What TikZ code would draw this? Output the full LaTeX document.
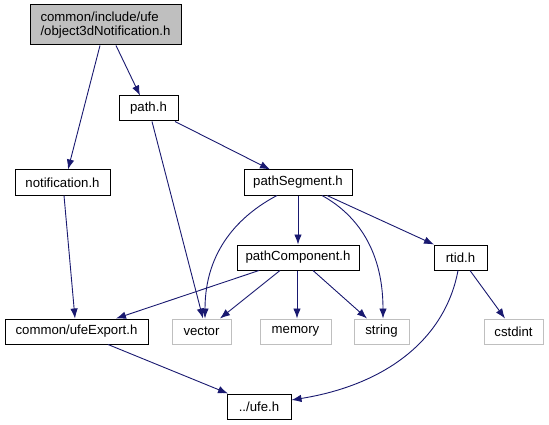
\documentclass[tikz,border=0pt]{standalone}
\usepackage{fontspec}
\setmainfont{Liberation Sans}
\usetikzlibrary{arrows.meta}
\definecolor{edgec}{HTML}{191970}
\definecolor{extc}{HTML}{BFBFBF}
\begin{document}
\begin{tikzpicture}[x=1pt,y=-1pt,
  box/.style={draw=black,line width=1pt,rectangle,inner sep=0pt,minimum height=25pt,font=\fontsize{13.2}{14.5}\selectfont},
  ext/.style={box,draw=extc},
  edge/.style={draw=edgec,line width=0.9pt,-{Latex[length=10pt,width=7.5pt]}}]
\useasboundingbox (0,0) rectangle (549,425);
\node[box,fill=extc,minimum width=151pt,minimum height=40pt,align=left] (top) at (105.5,25) {common/include/ufe\\/object3dNotification.h};
\node[box,minimum width=59pt] (path) at (148.5,108.5) {path.h};
\node[box,minimum width=95pt] (notif) at (62.5,182.5) {notification.h};
\node[box,minimum width=108pt] (seg) at (298,182.5) {pathSegment.h};
\node[box,minimum width=122pt] (comp) at (298,257.5) {pathComponent.h};
\node[box,minimum width=53pt] (rtid) at (460.5,257.5) {rtid.h};
\node[box,minimum width=143pt] (exp) at (76.5,331.5) {common/ufeExport.h};
\node[ext,minimum width=59pt] (vec) at (201.5,331.5) {vector};
\node[ext,minimum width=71pt] (mem) at (295.5,331.5) {memory};
\node[ext,minimum width=55pt] (str) at (381.5,331.5) {string};
\node[ext,minimum width=59pt] (cst) at (513.5,331.5) {cstdint};
\node[box,minimum width=64pt] (ufe) at (259,406.5) {../ufe.h};

\draw[edge] ([xshift=-5.5pt]top.south) -- ([xshift=5.5pt]notif.north);
\draw[edge] ([xshift=10.5pt]top.south) -- ([xshift=-8.5pt]path.north);
\draw[edge] ([xshift=3.5pt]path.south) -- ([xshift=1.5pt]vec.north);
\draw[edge] ([xshift=26.5pt]path.south) -- ([xshift=-28pt]seg.north);
\draw[edge] ([xshift=1.5pt]notif.south) -- ([xshift=-1.5pt]exp.north);
\draw[edge] ([xshift=-39pt]comp.south) -- ([xshift=39.5pt]exp.north);
\draw[edge] ([xshift=-18pt]comp.south) -- ([xshift=18.5pt]vec.north);
\draw[edge] ([xshift=-21pt]seg.south) .. controls (240,215) and (205,250) .. ([xshift=3.5pt]vec.north);
\draw[edge] (seg.south) -- (comp.north);
\draw[edge] ([xshift=24pt]seg.south) .. controls (352,212) and (383,245) .. ([xshift=1.5pt]str.north);
\draw[edge] ([xshift=29pt]seg.south) -- ([xshift=-26.5pt]rtid.north);
\draw[edge] ([xshift=-1pt]comp.south) -- ([xshift=1.5pt]mem.north);
\draw[edge] ([xshift=15pt]comp.south) -- ([xshift=-14.5pt]str.north);
\draw[edge] ([xshift=9.5pt]rtid.south) -- ([xshift=-8.5pt]cst.north);
\draw[edge] ([xshift=-2.5pt]rtid.south) .. controls (445,340) and (385,385) .. ([yshift=6.5pt]ufe.east);
\draw[edge] ([xshift=31.5pt]exp.south) -- ([xshift=-31pt]ufe.north);
\end{tikzpicture}
\end{document}
